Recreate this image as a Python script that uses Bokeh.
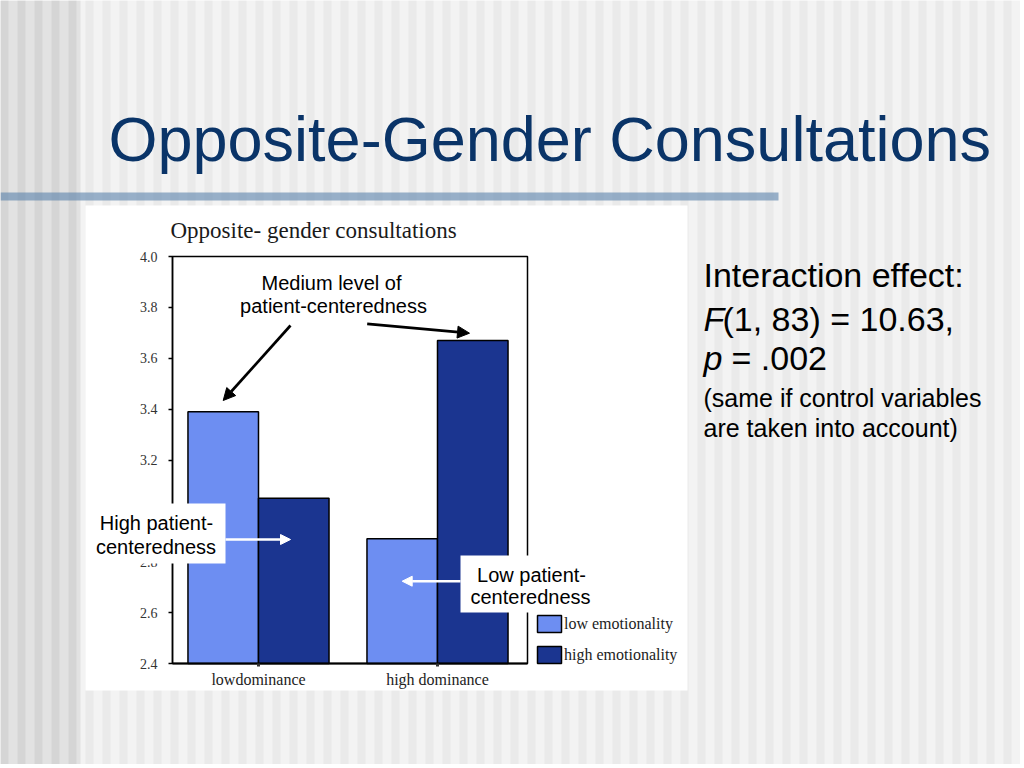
from bokeh.plotting import figure
from bokeh.models import (Range1d, FixedTicker, NumeralTickFormatter, Label, BoxAnnotation,
                          Arrow, NormalHead, Legend, LegendItem, ColumnDataSource)
from bokeh.embed import file_html
from bokeh.resources import INLINE

# ---------------- data ----------------
categories = ["lowdominance", "high dominance"]
series_names = ["low emotionality", "high emotionality"]
low_emotionality = [3.39, 2.89]
high_emotionality = [3.05, 3.67]
y_ticks = [2.4, 2.6, 2.8, 3.0, 3.2, 3.4, 3.6, 3.8, 4.0]
y_min, y_max = 2.4, 4.0
x_start, x_end = -0.4804, 1.5028

slide_title = "Opposite-Gender Consultations"
chart_title = "Opposite- gender consultations"

LIGHT = "#6d8ef2"
DARK = "#1b3590"
SERIF = "Liberation Serif"
SANS = "Liberation Sans"

# ---------------- layout (page pixels) ----------------
W, H = 1020, 764
PX0, PX1 = 172, 527        # pixel columns of the chart's x extent
PY_TOP, PY_BOT = 256, 663  # pixel rows of the chart's y extent

kx = (PX1 - PX0) / (x_end - x_start)
ky = (PY_BOT - PY_TOP) / (y_max - y_min)
xr = Range1d(x_start - PX0 / kx, x_start + (W - PX0) / kx)
yr = Range1d(y_min - (H - PY_BOT) / ky, y_max + PY_TOP / ky)


def sx(X):
    return X


def sy(Y):
    return H - Y


idx = list(range(len(categories)))
bar_w = 0.394
src = ColumnDataSource(data=dict(
    cat=categories,
    x_low=[i - bar_w / 2 for i in idx],
    x_high=[i + bar_w / 2 for i in idx],
    low=low_emotionality,
    high=high_emotionality,
))

p = figure(width=W, height=H, min_border=0,
           x_range=xr, y_range=yr,
           output_backend="svg", toolbar_location=None, tools="",
           border_fill_color="#f3f3f3", background_fill_color="#f3f3f3",
           outline_line_color=None)
p.grid.visible = False


def box(X0, X1, Y0, Y1, color, alpha=1.0, level="underlay"):
    b = BoxAnnotation(left=sx(X0), right=sx(X1), top=sy(Y0), bottom=sy(Y1),
                      left_units="screen", right_units="screen",
                      top_units="screen", bottom_units="screen",
                      fill_color=color, fill_alpha=alpha, line_color=None, level=level)
    p.add_layout(b)


# slide background stripes
box(0, 80, 0, H, "#e2e2e2")
for X in range(0, W, 17):
    box(X, X + 8, 0, H, "#d5d5d5" if X < 80 else "#eaeaea")
# title rule
box(0, 778, 192, 200, "#5a82ac", alpha=0.6)
# white chart panel
box(85, 687, 205, 690, "white")
# plot area with its black border (data units)
p.add_layout(BoxAnnotation(left=x_start, right=x_end, bottom=y_min, top=y_max,
                           fill_color="white", fill_alpha=1.0,
                           line_color="black", line_width=1.5, line_alpha=1.0,
                           level="underlay"))

# ---------------- bars ----------------
r_low = p.vbar(x="x_low", top="low", bottom=y_min, width=bar_w, source=src,
               fill_color=LIGHT, line_color="black", line_width=1.5)
r_high = p.vbar(x="x_high", top="high", bottom=y_min, width=bar_w, source=src,
                fill_color=DARK, line_color="black", line_width=1.5)

# ---------------- axes ----------------
p.yaxis.fixed_location = x_start
p.yaxis.bounds = (y_min, y_max)
p.yaxis.ticker = FixedTicker(ticks=y_ticks)
p.yaxis.formatter = NumeralTickFormatter(format="0.0")
p.yaxis.major_label_text_font = SERIF
p.yaxis.major_label_text_font_size = "14px"
p.yaxis.major_label_text_color = "#333333"
p.yaxis.major_label_standoff = 11
p.yaxis.major_tick_out = 4
p.yaxis.major_tick_in = 0
p.yaxis.major_tick_line_width = 1.5
p.yaxis.minor_tick_line_color = None
p.yaxis.axis_line_width = 1.5

p.xaxis.fixed_location = y_min
p.xaxis.bounds = (x_start, x_end)
p.xaxis.ticker = FixedTicker(ticks=idx)
p.xaxis.major_label_overrides = {i: c for i, c in zip(idx, categories)}
p.xaxis.major_label_text_font = SERIF
p.xaxis.major_label_text_font_size = "16px"
p.xaxis.major_label_text_color = "#222222"
p.xaxis.major_label_standoff = 4
p.xaxis.major_tick_out = 3
p.xaxis.major_tick_in = 0
p.xaxis.major_tick_line_width = 3
p.xaxis.major_tick_line_color = "#333333"
p.xaxis.minor_tick_line_color = None
p.xaxis.axis_line_width = 2

# ---------------- legend ----------------
legend = Legend(items=[LegendItem(label=series_names[0], renderers=[r_low]),
                       LegendItem(label=series_names[1], renderers=[r_high])],
                location=(sx(534), sy(665)), orientation="vertical",
                padding=0, margin=0, spacing=10,
                glyph_width=30, glyph_height=21, label_height=21, label_standoff=0,
                label_text_font=SERIF, label_text_font_size="16px",
                label_text_color="#222222",
                border_line_color=None, background_fill_alpha=0)
p.add_layout(legend)


# ---------------- texts ----------------
def label(X, Y, text, size, font=SANS, color="black", align="left", style="normal",
          level="overlay"):
    # Y is the intended baseline row; compensate the renderer's baseline offset
    p.add_layout(Label(x=sx(X), y=sy(Y - 0.39 * size), x_units="screen", y_units="screen",
                       text=text, text_font=font, text_font_size=f"{size}px",
                       text_color=color, text_align=align, text_baseline="alphabetic",
                       text_font_style=style, level=level))


label(108, 163, slide_title, 63, color="#0a3468")
label(170, 239, chart_title, 23, font=SERIF, color="#1a1a1a")

label(331, 290, "Medium level of", 20, align="center")
label(333, 313, "patient-centeredness", 20, align="center")

# white callout boxes
box(88, 225, 503, 563, "white", level="overlay")
box(460, 596, 555, 612, "white", level="overlay")

label(156, 530, "High patient-", 20, align="center")
label(155.5, 554, "centeredness", 20, align="center")
label(531, 582, "Low patient-", 20, align="center")
label(530, 604, "centeredness", 20, align="center")

label(703, 288, "Interaction effect:", 34)
label(703, 332, "F", 34, style="italic")
label(722, 332, "(1, 83) = 10.63,", 34)
label(703, 371, "p", 34, style="italic")
label(731, 371, "= .002", 34)
label(703, 407, "(same if control variables", 25)
label(703, 437, "are taken into account)", 25)


# ---------------- arrows ----------------
def arrow(X0, Y0, X1, Y1, color, width, size):
    p.add_layout(Arrow(x_start=sx(X0), y_start=sy(Y0), x_end=sx(X1), y_end=sy(Y1),
                       start_units="screen", end_units="screen",
                       line_color=color, line_width=width, level="overlay",
                       end=NormalHead(size=size, fill_color=color, line_color=color,
                                      line_width=1)))


arrow(290, 325, 222.7, 400, "black", 2.7, 12)
arrow(366.7, 323.3, 469, 332.7, "black", 2.7, 12)
arrow(225, 539, 290, 539, "white", 2.5, 10)
arrow(460, 580.7, 401.7, 580.7, "white", 2.5, 10)

open("out.html", "w").write(file_html(p, INLINE))
